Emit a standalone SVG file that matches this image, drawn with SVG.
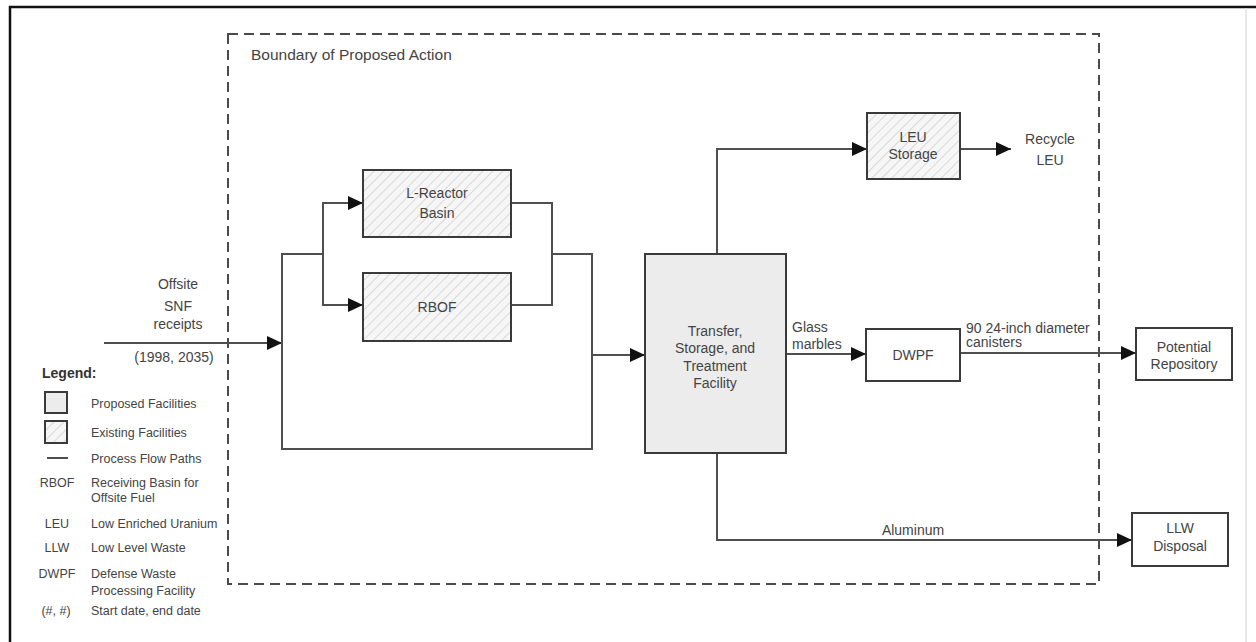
<svg xmlns="http://www.w3.org/2000/svg" width="1256" height="642" viewBox="0 0 1256 642">
  <defs>
    <pattern id="hatch" patternUnits="userSpaceOnUse" width="7" height="7" patternTransform="rotate(45)">
      <rect width="7" height="7" fill="#f6f6f6"/>
      <line x1="0" y1="0" x2="0" y2="7" stroke="#c4c4c4" stroke-width="1.2"/>
    </pattern>
    <marker id="arrow" markerUnits="userSpaceOnUse" markerWidth="16" markerHeight="14" refX="15" refY="7" orient="auto">
      <path d="M0,0 L15,7 L0,14 z" fill="#111"/>
    </marker>
    <style>
      text { font-family: "Liberation Sans", Arial, Helvetica, sans-serif; fill: #444444; }
      .t { font-size: 14px; text-anchor: middle; }
      .tl { font-size: 14px; }
      .lg { font-size: 12.5px; }
      .ab { font-size: 12.5px; text-anchor: middle; }
      .box { stroke: #3a3a3a; stroke-width: 2; }
      .existing { fill: url(#hatch); }
      .proposed { fill: #ececec; }
      .plain { fill: #ffffff; }
      .flow { fill: none; stroke: #4f4f4f; stroke-width: 2; }
    </style>
  </defs>

  <rect width="1256" height="642" fill="#ffffff"/>

  <!-- outer frame -->
  <path d="M10,642 L10,7 L1256,7" fill="none" stroke="#111" stroke-width="2.5"/>
  <line x1="1246" y1="8" x2="1246" y2="642" stroke="#e2e2e2" stroke-width="1.5"/>

  <!-- boundary of proposed action -->
  <g id="boundary">
    <rect x="228" y="34" width="871" height="550" fill="none" stroke="#4a4a4a" stroke-width="2" stroke-dasharray="10,6"/>
    <text x="251" y="60" style="font-size:15.5px">Boundary of Proposed Action</text>
  </g>

  <!-- process flow paths -->
  <g id="connectors">
    <line class="flow" x1="104" y1="343" x2="282" y2="343" marker-end="url(#arrow)"/>
    <path class="flow" d="M323,254 L282,254 L282,449 L592,449 L592,254 L552,254"/>
    <path class="flow" d="M323,305 L323,203 L363,203" marker-end="url(#arrow)"/>
    <path class="flow" d="M323,254 L323,305 L363,305" marker-end="url(#arrow)"/>
    <path class="flow" d="M511,203 L552,203 L552,305 L511,305"/>
    <line class="flow" x1="592" y1="355" x2="645" y2="355" marker-end="url(#arrow)"/>
    <path class="flow" d="M717,254 L717,149 L867,149" marker-end="url(#arrow)"/>
    <line class="flow" x1="960" y1="149" x2="1011" y2="149" marker-end="url(#arrow)"/>
    <line class="flow" x1="786" y1="354" x2="866" y2="354" marker-end="url(#arrow)"/>
    <line class="flow" x1="960" y1="353" x2="1136" y2="353" marker-end="url(#arrow)"/>
    <path class="flow" d="M717,453 L717,540 L1132,540" marker-end="url(#arrow)"/>
  </g>

  <!-- flow labels -->
  <g id="labels">
    <text class="t" x="178" y="289">Offsite</text>
    <text class="t" x="178" y="311">SNF</text>
    <text class="t" x="178" y="329">receipts</text>
    <text class="t" x="174" y="362">(1998, 2035)</text>
    <text class="tl" x="792" y="332">Glass</text>
    <text class="tl" x="792" y="349">marbles</text>
    <text class="tl" x="966" y="333">90 24-inch diameter</text>
    <text class="tl" x="966" y="347">canisters</text>
    <text class="t" x="913" y="535">Aluminum</text>
    <text class="t" x="1050" y="144">Recycle</text>
    <text class="t" x="1050" y="165">LEU</text>
  </g>

  <g id="l-reactor-basin">
    <rect class="box existing" x="363" y="170" width="148" height="67"/>
    <text class="t" x="437" y="198">L-Reactor</text>
    <text class="t" x="437" y="218">Basin</text>
  </g>

  <g id="rbof">
    <rect class="box existing" x="363" y="273" width="148" height="68"/>
    <text class="t" x="437" y="312">RBOF</text>
  </g>

  <g id="transfer-facility">
    <rect class="box proposed" x="645" y="254" width="141" height="199"/>
    <text class="t" x="715" y="336">Transfer,</text>
    <text class="t" x="715" y="353">Storage, and</text>
    <text class="t" x="715" y="371">Treatment</text>
    <text class="t" x="715" y="388">Facility</text>
  </g>

  <g id="leu-storage">
    <rect class="box existing" x="867" y="113" width="93" height="66"/>
    <text class="t" x="913" y="142">LEU</text>
    <text class="t" x="913" y="159">Storage</text>
  </g>

  <g id="dwpf">
    <rect class="box plain" x="866" y="329" width="94" height="52"/>
    <text class="t" x="913" y="360">DWPF</text>
  </g>

  <g id="potential-repository">
    <rect class="box plain" x="1136" y="328" width="96" height="52"/>
    <text class="t" x="1184" y="352">Potential</text>
    <text class="t" x="1184" y="369">Repository</text>
  </g>

  <g id="llw-disposal">
    <rect class="box plain" x="1132" y="513" width="96" height="53"/>
    <text class="t" x="1180" y="533">LLW</text>
    <text class="t" x="1180" y="551">Disposal</text>
  </g>

  <!-- legend -->
  <g id="legend">
    <text x="42" y="378" style="font-size:14px;font-weight:bold;fill:#333">Legend:</text>
    <rect class="box proposed" x="45" y="392" width="22" height="21" stroke-width="1.5"/>
    <text class="lg" x="91" y="408">Proposed Facilities</text>
    <rect class="box existing" x="45" y="421" width="22" height="22" stroke-width="1.5"/>
    <text class="lg" x="91" y="437">Existing Facilities</text>
    <line x1="47" y1="458" x2="68" y2="458" stroke="#4f4f4f" stroke-width="2"/>
    <text class="lg" x="91" y="463">Process Flow Paths</text>
    <text class="ab" x="57" y="487">RBOF</text>
    <text class="lg" x="91" y="487">Receiving Basin for</text>
    <text class="lg" x="91" y="502">Offsite Fuel</text>
    <text class="ab" x="57" y="528">LEU</text>
    <text class="lg" x="91" y="528">Low Enriched Uranium</text>
    <text class="ab" x="57" y="552">LLW</text>
    <text class="lg" x="91" y="552">Low Level Waste</text>
    <text class="ab" x="57" y="578">DWPF</text>
    <text class="lg" x="91" y="578">Defense Waste</text>
    <text class="lg" x="91" y="595">Processing Facility</text>
    <text class="ab" x="56" y="615">(#, #)</text>
    <text class="lg" x="91" y="615">Start date, end date</text>
  </g>
</svg>
